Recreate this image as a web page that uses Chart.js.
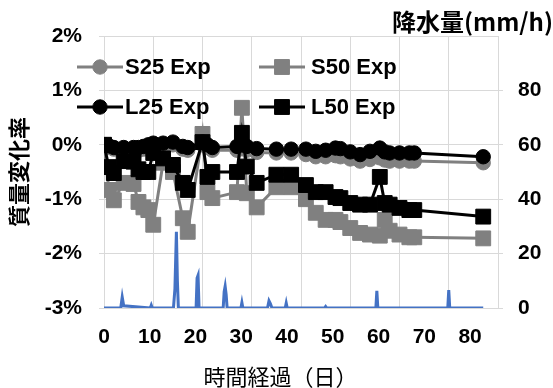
<!DOCTYPE html>
<html>
<head>
<meta charset="utf-8">
<script src="https://cdn.jsdelivr.net/npm/chart.js@4/dist/chart.umd.min.js"></script>
<style>
  html, body { margin: 0; padding: 0; background: #fff; }
  #wrap { width: 553px; height: 388px; }
</style>
</head>
<body>
<div id="wrap"><canvas id="chart" width="553" height="388"></canvas></div>
<script>
// Elapsed days at each weighing
const days = [0, 1, 2, 4, 6, 7, 8, 9, 10, 12, 14, 16, 17, 20, 21, 22, 27, 28, 29, 31,
              35, 38, 41, 43, 45, 47, 48, 50, 52, 54, 56, 57, 58, 60, 62, 63, 77];

// Mass change rate (%) per specimen
const s25 = [0, -0.05, -0.08, -0.10, -0.08, -0.10, -0.08, -0.05, -0.02, -0.02, 0.00, -0.08, -0.10, 0.00, -0.05, -0.10, -0.10, -0.07, -0.10, -0.14,
             -0.15, -0.15, -0.18, -0.22, -0.22, -0.20, -0.22, -0.26, -0.30, -0.27, -0.24, -0.28, -0.30, -0.30, -0.30, -0.30, -0.33];
const s50 = [0, -0.83, -1.02, -0.70, -0.72, -1.05, -1.15, -1.20, -1.47, -0.33, -0.50, -1.35, -1.60, 0.20, -0.87, -0.98, -0.87, 0.68, -0.89, -1.15,
             -0.78, -0.78, -1.00, -1.25, -1.38, -1.38, -1.42, -1.53, -1.62, -1.65, -1.67, -1.38, -1.58, -1.65, -1.70, -1.70, -1.72];
const l25 = [0, -0.02, -0.05, -0.05, -0.05, -0.05, -0.03, 0.00, 0.03, 0.03, 0.05, -0.03, -0.05, 0.05, 0.00, -0.05, -0.03, 0.00, -0.03, -0.07,
             -0.08, -0.08, -0.08, -0.12, -0.10, -0.06, -0.07, -0.13, -0.18, -0.12, -0.06, -0.13, -0.15, -0.15, -0.15, -0.15, -0.22];
const l50 = [0, -0.41, -0.52, -0.30, -0.31, -0.45, -0.50, -0.50, -0.15, -0.25, -0.37, -0.70, -0.83, 0.05, -0.59, -0.50, -0.50, 0.22, -0.40, -0.70,
             -0.55, -0.55, -0.74, -0.87, -0.87, -0.96, -0.98, -1.07, -1.10, -1.10, -0.59, -1.07, -1.10, -1.16, -1.20, -1.20, -1.32];

const seriesNames = ['S25 Exp', 'S50 Exp', 'L25 Exp', 'L50 Exp'];

// Rainfall record (mm/h)
const rainDays = [0, 3.4, 3.7, 4.0, 9.4, 9.6, 9.8, 14.1, 14.4, 14.7, 14.9, 15.1, 18.7, 18.9, 19.1, 19.3,
                  24.2, 24.4, 24.6, 24.8, 25.0, 27.8, 28.0, 28.2, 33.2, 33.5, 33.8, 34.1, 36.8, 37.0, 37.2,
                  44.8, 45.0, 45.2, 55.2, 55.4, 55.6, 69.8, 70.0, 70.2, 77];
const rainMm   = [0, 0, 4, 0.8, 0, 1, 0, 0, 7, 28, 10, 0, 0, 11, 12, 0,
                  0, 6, 8, 5, 0, 0, 2, 0, 0, 2.6, 1.5, 0, 0, 1.8, 0,
                  0, 0.5, 0, 0, 6.3, 0, 0, 6.6, 0, 0];

// Tick values for each axis
const dayTicks  = [0, 10, 20, 30, 40, 50, 60, 70, 80];
const massTicks = [-3, -2, -1, 0, 1, 2];
const rainTicks = [0, 20, 40, 60, 80];

const GRID = '#d9d9d9';
const GRAY = '#808080';
const BLACK = '#000000';
const LATIN = "'Liberation Sans', Arial, sans-serif";
const CJK = "'Noto Sans CJK JP', 'Noto Sans CJK SC', sans-serif";

const toPoints = (xs, ys) => xs.map((x, i) => ({ x: x, y: ys[i] }));

function massSet(name, values, color, style, order) {
  return {
    label: name,
    data: toPoints(days, values),
    xAxisID: 'x',
    yAxisID: 'y',
    borderColor: color,
    backgroundColor: color,
    borderWidth: 3,
    pointStyle: style,
    pointRadius: style === 'rect' ? 10.5 : 7.2,
    pointBorderWidth: 1,
    pointBorderColor: color,
    pointBackgroundColor: color,
    tension: 0,
    order: order
  };
}

// Two-row key drawn over the upper part of the plot
const keySlots = [
  { mx: 100, y: 67, tx: 125 },
  { mx: 282, y: 67, tx: 311 },
  { mx: 100, y: 107, tx: 125 },
  { mx: 282, y: 107, tx: 311 }
];

const seriesKey = {
  id: 'seriesKey',
  afterDatasetsDraw(chart) {
    const ctx = chart.ctx;
    ctx.save();
    seriesNames.forEach((name, i) => {
      const ds = chart.data.datasets.find(d => d.label === name);
      const slot = keySlots[i];
      ctx.strokeStyle = ds.borderColor;
      ctx.lineWidth = 3;
      ctx.beginPath();
      ctx.moveTo(slot.mx - 23, slot.y);
      ctx.lineTo(slot.mx + 23, slot.y);
      ctx.stroke();
      ctx.fillStyle = ds.backgroundColor;
      ctx.strokeStyle = ds.borderColor;
      ctx.lineWidth = 1;
      Chart.helpers.drawPoint(ctx, {
        pointStyle: ds.pointStyle,
        radius: ds.pointRadius,
        rotation: 0,
        borderWidth: 1
      }, slot.mx, slot.y);
      ctx.fillStyle = '#000';
      ctx.font = 'bold 22px ' + LATIN;
      ctx.textAlign = 'left';
      ctx.textBaseline = 'middle';
      ctx.fillText(name, slot.tx, slot.y + 1);
    });
    ctx.restore();
  }
};

const tickFont = { family: LATIN, size: 21, weight: 'bold' };

new Chart(document.getElementById('chart'), {
  type: 'line',
  data: {
    datasets: [
      massSet('L25 Exp', l25, BLACK, 'circle', 1),
      massSet('L50 Exp', l50, BLACK, 'rect', 2),
      massSet('S25 Exp', s25, GRAY, 'circle', 3),
      massSet('S50 Exp', s50, GRAY, 'rect', 4),
      {
        label: '降水量',
        data: toPoints(rainDays, rainMm),
        xAxisID: 'x',
        yAxisID: 'y2',
        borderColor: '#4472c4',
        backgroundColor: '#4472c4',
        borderWidth: 3,
        pointRadius: 0,
        tension: 0,
        order: 9
      }
    ]
  },
  options: {
    responsive: false,
    animation: false,
    devicePixelRatio: 1,
    layout: { padding: { left: 8, right: 0, top: 0, bottom: 0 } },
    plugins: {
      legend: { display: false },
      tooltip: { enabled: false },
      title: {
        display: true,
        text: '降水量(mm/h)',
        align: 'end',
        position: 'top',
        color: '#000',
        font: { family: CJK, size: 24, weight: 'bold', lineHeight: 1 },
        padding: { top: 9.5, bottom: 2.5 }
      },
      subtitle: {
        display: true,
        text: '時間経過（日）',
        position: 'bottom',
        align: 'center',
        color: '#000',
        font: { family: CJK, size: 22, weight: 'normal', lineHeight: 1 },
        padding: { top: 4, bottom: 0 }
      }
    },
    scales: {
      x: {
        type: 'linear',
        position: 'bottom',
        min: 0,
        max: 80,
        afterBuildTicks(s) { s.ticks = dayTicks.map(v => ({ value: v })); },
        ticks: { display: false },
        grid: { color: GRID, lineWidth: 1, drawTicks: false },
        border: { color: GRID },
        afterFit(s) { s.height = 0; }
      },
      xl: {
        type: 'linear',
        position: 'bottom',
        min: 0,
        max: 86.1,
        afterBuildTicks(s) { s.ticks = dayTicks.map(v => ({ value: v })); },
        grid: { display: false, drawTicks: false },
        border: { display: false },
        ticks: {
          color: '#000',
          font: tickFont,
          padding: 17,
          maxRotation: 0,
          autoSkip: false
        },
        afterFit(s) { s.height = 54; }
      },
      y: {
        type: 'linear',
        position: 'left',
        min: -3,
        max: 2,
        afterBuildTicks(s) { s.ticks = massTicks.map(v => ({ value: v })); },
        ticks: {
          color: '#000',
          font: tickFont,
          padding: 17,
          callback: v => v + '%'
        },
        grid: { color: GRID, lineWidth: 1, tickLength: 5 },
        border: { color: GRID },
        title: {
          display: true,
          text: '質量変化率',
          color: '#000',
          font: { family: CJK, size: 22, weight: 'bold', lineHeight: 1 },
          padding: 0
        },
        afterFit(s) { s.width = 96; }
      },
      y2: {
        type: 'linear',
        position: 'right',
        min: 0,
        max: 100,
        afterBuildTicks(s) { s.ticks = rainTicks.map(v => ({ value: v })); },
        ticks: {
          color: '#000',
          font: tickFont,
          padding: 15
        },
        grid: { drawOnChartArea: false, color: GRID, tickLength: 5 },
        border: { color: GRID },
        afterFit(s) { s.width = 55; }
      }
    }
  },
  plugins: [seriesKey]
});
</script>
</body>
</html>
